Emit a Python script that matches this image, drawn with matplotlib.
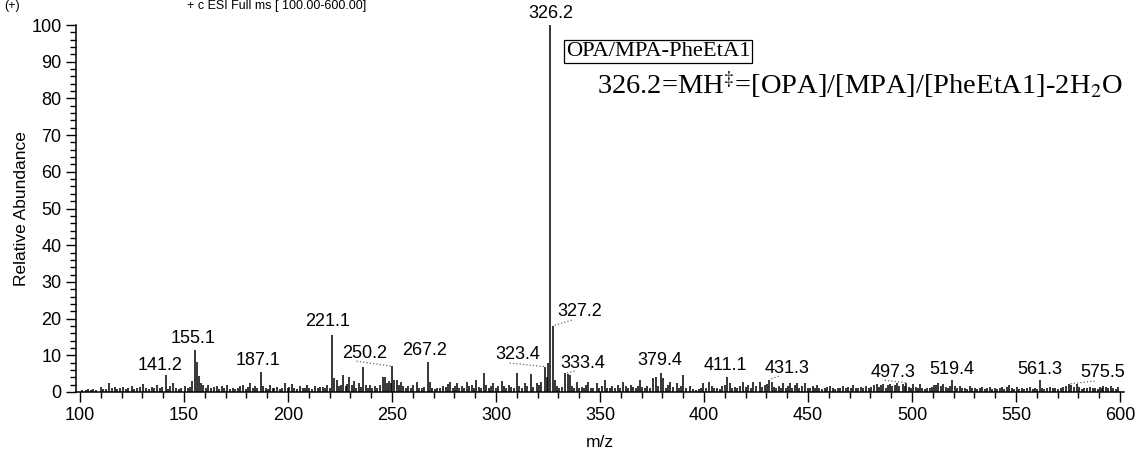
import matplotlib
matplotlib.use('Agg')
from matplotlib import pyplot as plt
from matplotlib.ticker import MultipleLocator

plt.rcParams['font.family'] = ['Liberation Sans', 'DejaVu Sans']
plt.rcParams['mathtext.fontset'] = 'stix'

# peak list: m/z and relative abundance (%)
mz = [
    101.2, 102.8, 104.1, 105.3, 106.4, 107.9, 109.9, 111.2, 112.5, 114.1,
    115.3, 116.8, 118.0, 119.2, 120.8, 122.1, 123.3, 124.8, 126.0, 127.4,
    128.9, 130.5, 131.6, 133.0, 134.5, 135.8, 137.2, 138.4, 139.5, 141.2,
    142.3, 143.3, 144.9, 146.1, 147.4, 148.8, 150.5, 151.8, 152.9, 153.9,
    155.1, 156.1, 157.1, 158.0, 159.3, 160.4, 161.7, 163.0, 164.2, 165.7,
    167.0, 168.1, 169.3, 170.5, 172.1, 173.4, 174.6, 175.8, 176.9, 178.5,
    179.6, 180.8, 181.7, 183.0, 184.1, 185.3, 187.1, 188.1, 189.3, 190.2,
    191.4, 192.6, 193.5, 194.6, 196.0, 197.2, 198.6, 199.8, 200.7, 201.8,
    203.0, 204.4, 205.8, 207.1, 208.0, 209.0, 210.3, 211.6, 213.0, 214.2,
    215.4, 217.0, 218.0, 218.9, 220.0, 221.1, 222.1, 223.4, 224.5, 225.5,
    226.6, 227.8, 228.6, 229.5, 230.6, 231.7, 232.8, 234.3, 235.2, 236.2,
    237.3, 238.4, 239.4, 240.6, 241.8, 243.0, 244.3, 245.8, 246.6, 247.6,
    248.5, 249.3, 250.2, 251.2, 252.3, 253.2, 254.2, 255.3, 256.5, 257.9,
    259.0, 260.2, 261.9, 263.1, 264.3, 265.5, 267.2, 268.2, 269.4, 270.6,
    271.8, 273.0, 274.7, 276.0, 277.0, 277.9, 279.2, 280.2, 281.1, 282.4,
    283.6, 284.8, 285.9, 287.1, 288.3, 289.4, 290.4, 291.6, 292.8, 294.2,
    295.4, 296.5, 297.6, 298.7, 299.8, 301.0, 302.7, 303.9, 305.0, 306.2,
    307.3, 308.5, 309.9, 311.1, 312.5, 313.9, 315.0, 316.8, 318.0, 319.6,
    320.8, 321.8, 323.4, 324.4, 325.2, 326.2, 327.2, 328.2, 329.3, 330.4,
    331.5, 333.4, 334.4, 335.4, 336.5, 337.6, 338.8, 340.0, 341.2, 342.3,
    343.3, 344.4, 345.6, 346.8, 348.4, 349.6, 350.8, 352.4, 353.6, 354.7,
    356.0, 357.2, 358.5, 359.8, 361.2, 362.4, 363.6, 364.8, 366.0, 367.2,
    368.2, 369.2, 370.4, 371.6, 372.8, 374.0, 375.6, 376.9, 378.0, 379.4,
    380.4, 381.6, 382.6, 383.7, 385.0, 386.9, 388.0, 389.0, 390.1, 391.2,
    393.3, 394.6, 396.0, 397.4, 398.6, 399.7, 401.0, 402.6, 403.8, 405.0,
    406.4, 407.6, 408.8, 410.0, 411.1, 412.5, 413.6, 414.8, 416.0, 417.2,
    418.9, 420.0, 421.2, 422.4, 423.7, 425.0, 426.9, 428.0, 429.2, 430.2,
    431.3, 432.5, 433.6, 434.8, 436.0, 437.0, 438.1, 439.2, 440.2, 441.3,
    442.5, 443.6, 444.6, 445.8, 447.0, 448.6, 449.8, 451.0, 452.2, 453.2,
    454.2, 455.4, 456.8, 458.0, 459.2, 460.6, 461.8, 463.0, 464.2, 465.4,
    467.0, 468.2, 469.4, 470.6, 471.8, 473.0, 474.2, 475.4, 476.6, 478.0,
    479.2, 480.4, 481.6, 483.0, 484.2, 485.2, 486.2, 487.4, 488.4, 489.4,
    490.6, 491.6, 492.6, 493.8, 495.5, 496.4, 497.3, 498.4, 499.4, 500.6,
    501.8, 502.8, 503.9, 505.0, 506.2, 507.4, 508.4, 509.5, 510.6, 511.6,
    512.7, 513.8, 515.1, 516.2, 517.4, 518.4, 519.4, 520.6, 521.8, 523.1,
    524.2, 525.4, 526.6, 527.9, 529.0, 530.2, 531.4, 532.6, 533.8, 535.0,
    536.2, 537.5, 538.6, 539.8, 541.0, 542.2, 543.4, 544.4, 545.5, 546.8,
    548.0, 549.2, 550.3, 551.6, 552.8, 554.0, 555.2, 556.7, 558.0, 559.2,
    560.2, 561.3, 562.4, 563.6, 565.0, 566.4, 567.6, 568.8, 570.0, 571.4,
    572.8, 574.0, 575.5, 576.6, 577.8, 579.2, 580.4, 581.6, 582.8, 584.0,
    585.6, 586.8, 588.0, 589.2, 590.4, 591.4, 592.0, 593.2, 594.4, 595.6,
    596.8, 598.0, 599.2,
]
abundance = [
    0.6, 0.5, 0.9, 0.5, 0.8, 0.6, 1.4, 0.7, 0.9, 2.4,
    1.0, 1.4, 0.8, 1.1, 1.4, 0.7, 1.0, 1.7, 0.9, 1.2,
    1.4, 2.3, 1.0, 0.8, 1.4, 1.0, 2.0, 1.1, 1.3, 4.6,
    0.9, 1.5, 2.4, 1.0, 0.8, 1.2, 1.7, 1.0, 1.4, 2.9,
    11.5, 8.3, 4.3, 2.4, 2.0, 1.2, 2.0, 1.0, 1.3, 1.7,
    0.9, 1.7, 1.0, 2.0, 0.8, 1.1, 0.7, 1.0, 1.7, 2.0,
    0.9, 1.3, 2.4, 1.0, 1.5, 1.2, 5.5, 1.7, 1.0, 0.8,
    2.0, 1.0, 1.2, 1.4, 0.9, 1.1, 2.4, 1.0, 1.3, 2.2,
    1.0, 0.8, 1.5, 1.0, 1.2, 2.0, 1.0, 0.9, 1.7, 1.0,
    1.3, 1.4, 1.0, 2.0, 1.2, 15.6, 3.8, 3.3, 1.5, 2.0,
    4.6, 1.6, 2.2, 4.2, 1.8, 3.0, 1.2, 2.4, 1.4, 6.7,
    1.8, 1.2, 1.9, 1.0, 1.5, 1.0, 2.0, 4.2, 4.0, 2.5,
    3.0, 2.5, 7.0, 3.3, 3.4, 2.0, 2.8, 1.5, 1.2, 1.5,
    1.0, 1.8, 2.8, 1.2, 1.0, 1.4, 8.1, 2.8, 1.2, 0.8,
    1.0, 1.2, 1.5, 1.3, 2.2, 2.8, 1.0, 1.6, 2.4, 1.2,
    1.5, 1.1, 2.8, 1.5, 1.9, 1.2, 3.3, 1.4, 1.0, 5.1,
    1.8, 1.2, 1.5, 2.4, 1.0, 1.6, 3.1, 1.5, 1.2, 2.0,
    1.4, 1.2, 5.1, 1.6, 1.2, 2.4, 1.5, 4.9, 1.4, 2.4,
    2.0, 2.8, 6.9, 4.2, 7.8, 100.0, 18.0, 3.3, 1.6, 1.0,
    1.4, 5.1, 4.9, 4.6, 1.6, 1.2, 2.8, 1.0, 1.4, 1.0,
    1.8, 2.8, 1.2, 1.0, 2.5, 1.0, 1.6, 3.3, 1.2, 1.0,
    1.5, 1.2, 1.8, 1.0, 2.8, 1.5, 1.2, 1.8, 1.4, 1.0,
    1.7, 3.3, 1.3, 1.0, 1.6, 1.2, 3.9, 4.2, 1.5, 5.3,
    3.7, 1.2, 1.8, 2.8, 1.4, 2.4, 1.2, 1.6, 4.6, 1.2,
    1.5, 0.8, 0.6, 0.9, 1.2, 2.4, 1.0, 2.8, 1.6, 1.0,
    1.2, 0.8, 1.5, 1.8, 4.0, 2.4, 1.0, 1.4, 1.2, 1.7,
    2.8, 1.4, 1.8, 1.2, 2.8, 1.6, 2.8, 1.4, 1.8, 2.2,
    3.4, 2.8, 1.4, 1.0, 1.5, 1.2, 2.4, 1.0, 1.5, 2.4,
    1.2, 1.8, 2.5, 1.2, 1.6, 2.4, 1.2, 1.0, 1.5, 1.0,
    2.0, 1.2, 0.8, 1.0, 1.3, 1.7, 1.0, 0.8, 1.2, 1.0,
    1.7, 1.0, 1.3, 1.0, 2.0, 1.2, 1.0, 1.4, 1.2, 1.6,
    1.0, 1.4, 1.8, 2.1, 1.4, 1.8, 2.3, 1.2, 1.8, 2.1,
    1.5, 1.8, 2.5, 1.6, 2.1, 1.5, 2.5, 1.4, 1.2, 2.1,
    1.4, 1.2, 2.1, 1.0, 0.8, 1.0, 1.2, 1.4, 1.8, 2.0,
    2.5, 1.6, 2.3, 1.4, 1.2, 1.6, 3.2, 1.5, 1.2, 1.6,
    1.0, 1.2, 0.8, 1.6, 1.0, 1.2, 0.8, 1.0, 1.3, 0.8,
    1.0, 1.4, 0.9, 1.2, 0.8, 1.0, 1.3, 0.8, 1.4, 1.8,
    1.0, 0.8, 1.4, 0.9, 1.2, 0.7, 1.0, 1.4, 0.8, 1.0,
    0.8, 3.2, 1.0, 0.7, 1.0, 1.4, 1.0, 1.2, 0.8, 1.2,
    1.4, 1.6, 2.2, 1.8, 1.4, 2.1, 1.3, 0.8, 1.0, 1.2,
    1.4, 1.0, 1.2, 0.8, 1.4, 1.0, 1.6, 1.4, 1.0, 1.6,
    1.2, 0.8, 1.4,
]

# labelled peaks
label_mz = [141.2, 155.1, 187.1, 221.1, 250.2, 267.2, 323.4, 326.2, 327.2,
            333.4, 379.4, 411.1, 431.3, 497.3, 519.4, 561.3, 575.5]
label_text = ['141.2', '155.1', '187.1', '221.1', '250.2', '267.2', '323.4',
              '326.2', '327.2', '333.4', '379.4', '411.1', '431.3', '497.3',
              '519.4', '561.3', '575.5']

# where each label sits (text centre, data coords) and whether a dotted leader is drawn
label_pos = {
    '141.2': (138.5, 7.1, False), '155.1': (154.3, 14.7, False),
    '187.1': (185.6, 8.7, False), '221.1': (219.2, 19.1, False),
    '250.2': (237.0, 10.6, True), '267.2': (265.9, 11.4, False),
    '323.4': (310.6, 10.1, True), '326.2': (326.2, 103.2, False),
    '327.2': (340.4, 21.8, True), '333.4': (341.8, 7.9, True),
    '379.4': (378.8, 8.7, False), '411.1': (410.1, 7.1, False),
    '431.3': (439.9, 6.5, True), '497.3': (490.9, 5.4, True),
    '519.4': (519.2, 6.0, False), '561.3': (561.5, 6.0, False),
    '575.5': (591.8, 5.2, True),
}

fig = plt.figure(figsize=(11.36, 4.55), dpi=100)
ax = fig.add_axes([76 / 1136, 63 / 455, 1048 / 1136, 367 / 455])

ax.vlines(mz, 0, abundance, color='black', linewidth=1.1)

for m, txt in zip(label_mz, label_text):
    tx, ty, leader = label_pos[txt]
    ax.text(tx, ty, txt, ha='center', va='center', fontsize=13, clip_on=False)
    if leader:
        h = abundance[mz.index(m)]
        ax.plot([tx - 4, m], [ty - 2.2, h], color='#666666', linestyle=':',
                linewidth=0.9, clip_on=False)

ax.text(333.5, 92.8, 'OPA/MPA-PheEtA1', family=['Liberation Serif', 'DejaVu Serif'],
        fontsize=16.2, ha='left', va='center',
        bbox=dict(boxstyle='square,pad=0.08', facecolor='white', edgecolor='black', linewidth=0.9))
ax.text(348.5, 83.8, r'326.2=MH$^{\ddag}$=[OPA]/[MPA]/[PheEtA1]-2H$_{2}$O',
        family=['Liberation Serif', 'DejaVu Serif'], fontsize=20.5, ha='left', va='center')

ax.set_xlim(98.1, 601.9)
ax.set_ylim(0, 100)
ax.xaxis.set_major_locator(MultipleLocator(50))
ax.xaxis.set_minor_locator(MultipleLocator(10))
ax.yaxis.set_major_locator(MultipleLocator(10))
ax.yaxis.set_minor_locator(MultipleLocator(2))
ax.tick_params(which='major', direction='out', length=7, width=1.0, labelsize=13)
ax.tick_params(which='minor', direction='out', length=4, width=1.0)
ax.spines['top'].set_visible(False)
ax.spines['right'].set_visible(False)
ax.spines['left'].set_linewidth(1.1)
ax.spines['bottom'].set_linewidth(1.1)

ax.set_xlabel('m/z', fontsize=12.5, labelpad=8)
ax.set_ylabel('Relative Abundance', fontsize=12.5)
ax.yaxis.set_label_coords(-0.045, 0.5)

# scan header along the top edge of the page
fig.text(0.004, 0.999, '(+)', fontsize=9, va='top')
fig.text(0.165, 0.999, '+ c ESI Full ms [ 100.00-600.00]', fontsize=9, va='top')

fig.savefig('out.png', dpi=100)
